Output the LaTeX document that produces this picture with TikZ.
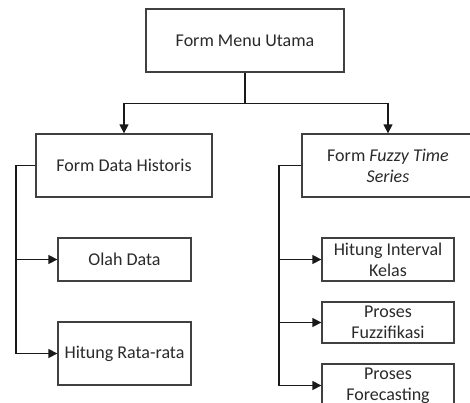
\documentclass[tikz,border=0pt]{standalone}
\usepackage{fontspec}
\setmainfont{Carlito}
\usetikzlibrary{arrows.meta}
\definecolor{boxline}{HTML}{404040}
\definecolor{txt}{HTML}{2A2A2A}
\begin{document}
\begin{tikzpicture}[x=1pt,y=-1pt,
  box/.style={draw=boxline,line width=1.3pt,fill=white,inner sep=0pt,align=center,text=txt,
    font=\fontsize{18}{21}\selectfont},
  conn/.style={draw=black!90,line width=1.4pt},
  arr/.style={conn,-{Triangle[length=9pt,width=9pt]}}]
\useasboundingbox (0,0) rectangle (470,403);
\clip (0,0) rectangle (470,403);
\fill[white] (0,0) rectangle (470,403);
% nodes
\node[box,minimum width=198pt,minimum height=63pt] (top) at (245,40.5) {Form Menu Utama};
\node[box,minimum width=176pt,minimum height=63pt] (lb) at (124,165.5) {Form Data Historis};
\node[box,minimum width=133pt,minimum height=43pt] (olah) at (124.5,259.5) {Olah Data};
\node[box,minimum width=133pt,minimum height=63pt] (rata) at (124.5,353.5) {Hitung Rata-rata};
\node[box,minimum width=172pt,minimum height=63pt] (rb) at (388,165.5) {Form \textit{Fuzzy Time}\\\textit{Series}};
\node[box,minimum width=132pt,minimum height=43pt] (hik) at (388,259.5) {Hitung Interval\\Kelas};
\node[box,minimum width=132pt,minimum height=41pt] (fuz) at (388,322.5) {Proses\\Fuzzifikasi};
\node[box,minimum width=132pt,minimum height=43pt] (fc) at (388,385.5) {Proses\\Forecasting};
% connectors
\draw[conn] (top.south) -- ++(0,31) coordinate (j);
\draw[arr] (j) -| (lb.north);
\draw[arr] (j) -| (rb.north);
\coordinate (ls) at (16,0);
\coordinate (rs) at (279,0);
\draw[arr] (lb.west) -| (ls |- rata.west) -- (rata.west);
\draw[arr] (ls |- olah.west) -- (olah.west);
\draw[arr] (rb.west) -| (rs |- fc.west) -- (fc.west);
\draw[arr] (rs |- hik.west) -- (hik.west);
\draw[arr] (rs |- fuz.west) -- (fuz.west);
\end{tikzpicture}
\end{document}
